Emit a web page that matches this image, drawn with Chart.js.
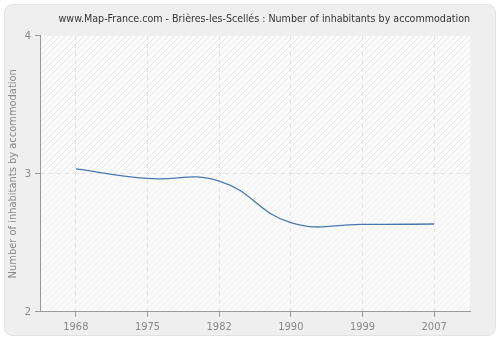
<!DOCTYPE html>
<html>
<head>
<meta charset="utf-8">
<script src="https://cdn.jsdelivr.net/npm/chart.js@4.4.0/dist/chart.umd.min.js"></script>
<style>
  html, body { margin: 0; padding: 0; background: #ffffff; }
  #wrap { width: 500px; height: 340px; }
</style>
</head>
<body>
<div id="wrap"><canvas id="chart" width="500" height="340"></canvas></div>
<script>
// ============ DATA ============
const years = ['1968', '1975', '1982', '1990', '1999', '2007'];
const inhabitants = [3.035, 2.966, 2.947, 2.646, 2.634, 2.636];
const yTicks = [2, 3, 4];

const chartTitle = 'www.Map-France.com - Brières-les-Scellés : Number of inhabitants by accommodation';

// ============ HELPERS ============
function makeHatch(color, bg) {
    const c = document.createElement('canvas');
    c.width = 6; c.height = 6;
    const g = c.getContext('2d');
    g.fillStyle = bg;
    g.fillRect(0, 0, 6, 6);
    g.strokeStyle = color;
    g.lineWidth = 1;
    g.beginPath();
    g.moveTo(0, 6); g.lineTo(6, 0);
    g.moveTo(-1, 1); g.lineTo(1, -1);
    g.moveTo(5, 7); g.lineTo(7, 5);
    g.stroke();
    return c;
}

// panel + hatched plot background
const backgroundPlugin = {
    id: 'panelBg',
    beforeDraw(chart) {
        const ctx = chart.ctx;
        ctx.save();
        ctx.fillStyle = '#ffffff';
        ctx.fillRect(0, 0, chart.width, chart.height);
        ctx.beginPath();
        ctx.roundRect(4.5, 4.5, 491, 331, 8);
        ctx.fillStyle = '#efefef';
        ctx.fill();
        ctx.strokeStyle = '#e2e2e2';
        ctx.lineWidth = 1;
        ctx.stroke();

        const a = chart.chartArea;
        const y3 = chart.scales.y.getPixelForValue(3);
        ctx.fillStyle = ctx.createPattern(makeHatch('#e8e8e8', '#fbfbfb'), 'repeat');
        ctx.fillRect(a.left, a.top, a.right - a.left, y3 - a.top);
        ctx.fillStyle = ctx.createPattern(makeHatch('#f1f1f1', '#fafafa'), 'repeat');
        ctx.fillRect(a.left, y3, a.right - a.left, a.bottom - y3);
        ctx.restore();
    }
};

const FONT = 'DejaVu Sans Condensed';

// ============ CHART ============
const ctx = document.getElementById('chart').getContext('2d');
new Chart(ctx, {
    type: 'line',
    data: {
        labels: years,
        datasets: [{
            data: inhabitants,
            borderColor: '#4a78ad',
            borderWidth: 1.3,
            pointRadius: 0,
            tension: 0.45,
            fill: false
        }]
    },
    options: {
        responsive: false,
        animation: false,
        layout: { padding: { left: 7, right: 30, top: 0, bottom: 2 } },
        plugins: {
            legend: { display: false },
            tooltip: { enabled: false },
            title: {
                display: true,
                text: chartTitle,
                color: '#333333',
                font: { family: FONT, size: 10.6, weight: 'normal' },
                padding: { top: 13, bottom: 10 },
                align: 'end'
            }
        },
        scales: {
            x: {
                offset: true,
                grid: {
                    color: '#e2e2e2',
                    tickColor: '#999999',
                    tickBorderDash: [],
                    tickLength: 5
                },
                border: { color: '#999999', width: 1, dash: [4, 4] },
                ticks: {
                    color: '#888888',
                    font: { family: FONT, size: 11 },
                    padding: 4,
                    maxRotation: 0
                }
            },
            y: {
                min: 2,
                max: 4,
                afterBuildTicks(scale) { scale.ticks = yTicks.map(v => ({ value: v })); },
                afterFit(scale) { scale.width = 33; },
                grid: {
                    color: (c) => (c.tick && c.tick.value === 3 ? '#e2e2e2' : 'rgba(0,0,0,0)'),
                    tickColor: '#999999',
                    tickBorderDash: [],
                    tickLength: 5
                },
                border: { color: '#999999', width: 1, dash: [4, 4] },
                ticks: {
                    color: '#888888',
                    font: { family: FONT, size: 11 },
                    padding: 4
                },
                title: {
                    display: true,
                    text: 'Number of inhabitants by accommodation',
                    color: '#888888',
                    font: { family: FONT, size: 11 },
                    padding: { top: 0, bottom: 2 }
                }
            }
        }
    },
    plugins: [backgroundPlugin]
});
</script>
</body>
</html>
